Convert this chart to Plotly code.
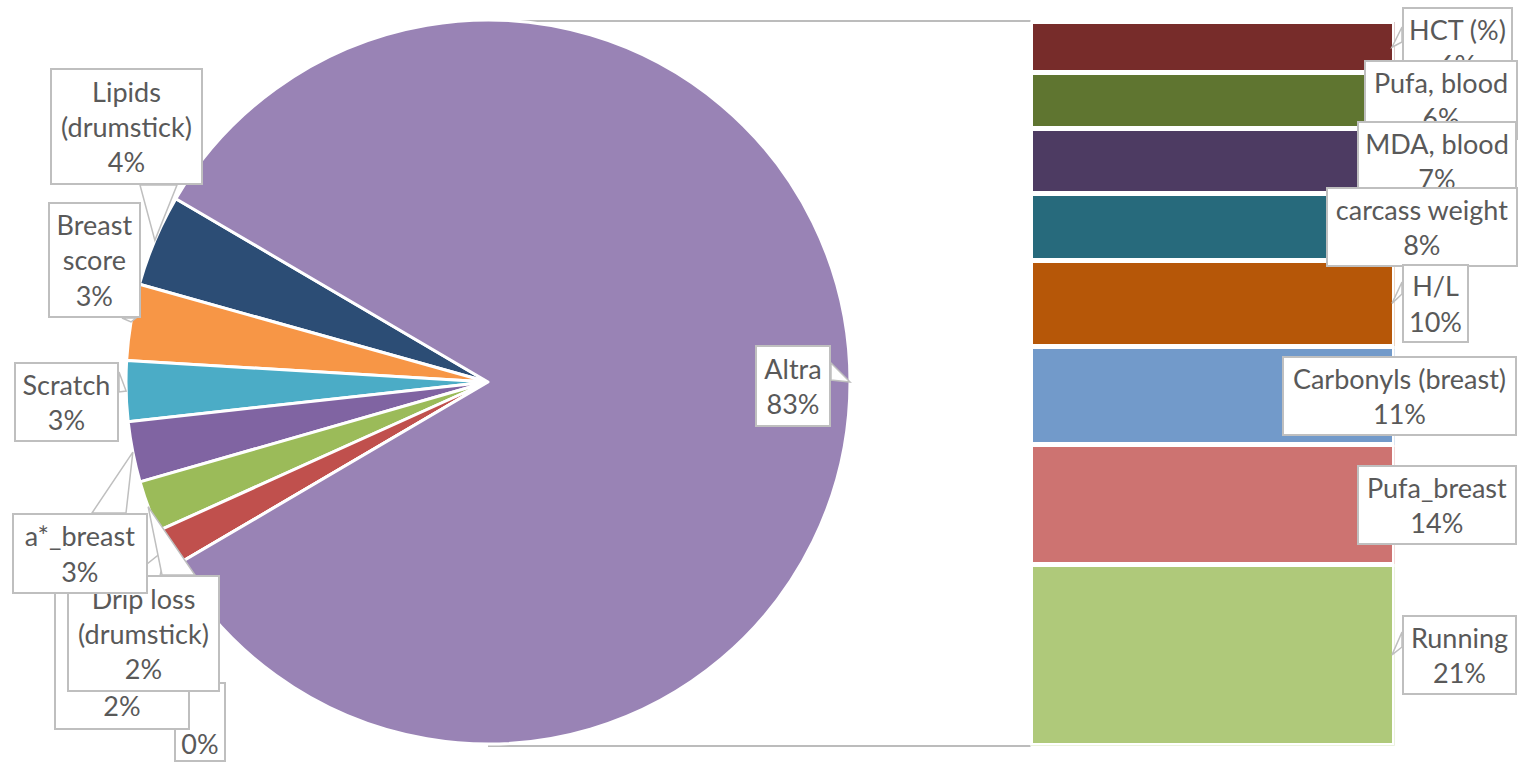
import math
import plotly.graph_objects as go

W, H = 1519, 762

# Small slices of the pie, counter-clockwise from the upper edge of the left wedge
pie_labels = ["Lipids (drumstick)", "Breast score", "Scratch", "a*_breast",
              "Drip loss (drumstick)", "Cooking loss (breast)", "Other"]
pie_values = [4.1, 3.4, 2.7, 2.7, 2.3, 1.7, 0.0]
pie_colors = ["#2C4D75", "#F79646", "#4BACC6", "#8064A2",
              "#9BBB59", "#C0504D", "#4F81BD"]

# The "Altra" slice broken down into the stacked bar, top to bottom
bar_labels = ["HCT (%)", "Pufa, blood", "MDA, blood", "carcass weight", "H/L",
              "Carbonyls (breast)", "Pufa_breast", "Running"]
bar_values = [5.9, 6.4, 7.4, 7.7, 9.9, 11.3, 13.7, 20.8]
bar_colors = ["#772C2A", "#5F7530", "#4D3B62", "#276A7C", "#B65708",
              "#729ACA", "#CD7371", "#AFC97A"]

group_label = "Altra"
group_color = "#9983B5"

# Wrapped label text
wrapped = {
    "Lipids (drumstick)": "Lipids<br>(drumstick)",
    "Breast score": "Breast<br>score",
    "Drip loss (drumstick)": "Drip loss<br>(drumstick)",
    "Cooking loss (breast)": "Cooking<br>loss<br>(breast)",
    "Other": "",
}

# ---- geometry (pixels) ----
CX, CY, R = 488, 382, 362
BAR_X0, BAR_X1 = 1030.5, 1394.5
BAR_Y0, BAR_Y1 = 21.5, 745.5
GAP = 5

FONT = "Lato"
FSIZE = 27
TXT = "#595959"
EDGE = "#BFBFBF"


def px(x):
    return x / W


def py(y):
    return 1 - y / H


group_value = sum(bar_values)
total = sum(pie_values) + group_value
small_frac = sum(pie_values) / total
start_deg = 180 - small_frac * 180      # math angle of the wedge's upper edge
first_deg = pie_values[0] / total * 360

fig = go.Figure()

# counter-clockwise pies place the first slice just clockwise of `rotation`
fig.add_trace(go.Pie(
    labels=pie_labels + [group_label],
    values=pie_values + [group_value],
    marker=dict(colors=pie_colors + [group_color],
                line=dict(color="white", width=3)),
    sort=False,
    direction="counterclockwise",
    rotation=90 - start_deg - first_deg,
    textinfo="none",
    hoverinfo="label+percent",
    showlegend=False,
    domain=dict(x=[px(CX - R), px(CX + R)], y=[py(CY + R), py(CY - R)]),
))

# stacked bar: bottom segment first
for lab, val, col in reversed(list(zip(bar_labels, bar_values, bar_colors))):
    fig.add_trace(go.Bar(
        x=[0.5], y=[val], width=1, name=lab,
        marker=dict(color=col, line=dict(color="white", width=GAP)),
        showlegend=False, hoverinfo="name+y",
    ))

# ---- callout tips, from the data ----
tips = {}
cum = 0
for lab, val in zip(pie_labels, pie_values):
    a = math.radians(start_deg + (cum + val / 2) / total * 360)
    tips[lab] = (CX + R * math.cos(a), CY - R * math.sin(a))
    cum += val
tips[group_label] = (CX + R, CY)
cum = 0
bar_right = BAR_X1 - GAP / 2
for lab, val in zip(bar_labels, bar_values):
    y = BAR_Y0 + (cum + val / 2) / group_value * (BAR_Y1 - BAR_Y0)
    tips[lab] = (bar_right, y)
    cum += val

values = dict(zip(pie_labels, pie_values))
values.update(zip(bar_labels, bar_values))
values[group_label] = group_value

# label boxes (x0, y0, x1, y1) and the base of their pointers, drawn bottom to top
callouts = [
    ("Other", (174, 682, 226, 762), ((192, 682), (212, 682))),
    ("Cooking loss (breast)", (54, 576, 190, 730), ((132, 576), (160, 576))),
    ("Drip loss (drumstick)", (67, 575, 220, 692), ((162, 575), (195, 575))),
    ("a*_breast", (12, 513, 148, 594), ((92, 513), (126, 513))),
    ("Scratch", (14, 362, 119, 442), ((119, 372), (119, 392))),
    ("Breast score", (48, 202, 141, 318), ((122, 318), (136, 318))),
    ("Lipids (drumstick)", (50, 68, 203, 185), ((140, 185), (177, 185))),
    (group_label, (755, 345, 831, 427), ((831, 363), (831, 380))),
    ("HCT (%)", (1402, 7, 1513, 87), ((1402, 27), (1402, 42))),
    ("Pufa, blood", (1364, 60, 1518, 140), None),
    ("MDA, blood", (1357, 121, 1517, 201), None),
    ("carcass weight", (1326, 187, 1518, 267), None),
    ("H/L", (1402, 264, 1469, 343), ((1402, 282), (1402, 294))),
    ("Carbonyls (breast)", (1282, 356, 1517, 436), None),
    ("Pufa_breast", (1357, 465, 1517, 545), None),
    ("Running", (1402, 615, 1517, 695), ((1402, 632), (1402, 647))),
]

shapes = [
    # series lines joining the pie to the bar
    dict(type="line", xref="paper", yref="paper", layer="below",
         x0=px(CX), y0=py(CY - R + 1), x1=px(BAR_X0), y1=py(CY - R + 1),
         line=dict(color="#A6A6A6", width=1.5)),
    dict(type="line", xref="paper", yref="paper", layer="below",
         x0=px(CX), y0=py(CY + R + 2), x1=px(BAR_X0), y1=py(CY + R + 2),
         line=dict(color="#A6A6A6", width=1.5)),
]
annotations = []
BW = 2
for lab, (x0, y0, x1, y1), base in callouts:
    if base is not None:
        (ax, ay), (bx, by) = base
        tx, ty = tips[lab]
        path = (f"M {px(ax)},{py(ay)} L {px(tx)},{py(ty)} "
                f"L {px(bx)},{py(by)} Z")
        shapes.append(dict(type="path", xref="paper", yref="paper", layer="above",
                           path=path, fillcolor="white",
                           line=dict(color=EDGE, width=1.5)))
    pct = f"{values[lab] / total * 100:.0f}%"
    name = wrapped.get(lab, lab)
    text = f"{name}<br>{pct}" if name else pct
    annotations.append(dict(
        xref="paper", yref="paper", x=px(x0), y=py(y0),
        xanchor="left", yanchor="top", showarrow=False,
        width=(x1 - x0) - 2 * BW, height=(y1 - y0) - 2 * BW,
        text=text, align="center",
        valign="bottom" if lab == "Other" else "middle",
        font=dict(family=FONT, size=FSIZE, color=TXT),
        bgcolor="white", bordercolor=EDGE, borderwidth=BW, borderpad=0,
    ))

fig.update_layout(
    width=W, height=H,
    margin=dict(l=0, r=0, t=0, b=0),
    paper_bgcolor="white", plot_bgcolor="white",
    barmode="stack",
    xaxis=dict(domain=[px(BAR_X0), px(BAR_X1)], range=[0, 1], visible=False,
               fixedrange=True),
    yaxis=dict(domain=[py(BAR_Y1), py(BAR_Y0)], range=[0, group_value],
               visible=False, fixedrange=True),
    shapes=shapes,
    annotations=annotations,
)

fig.write_html("out.html")
